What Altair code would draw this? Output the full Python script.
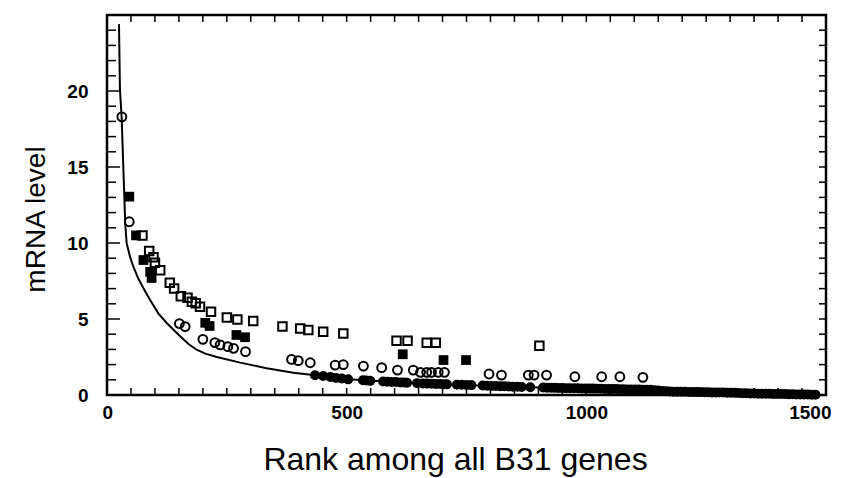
import altair as alt
import pandas as pd

# ---------------- data ----------------
line_rank = [25, 27, 30.5, 35, 38, 41, 48, 55, 65, 76, 90, 107, 125, 152, 170, 187, 205, 229, 278, 333,
             389, 430, 503, 600, 700, 800, 900, 1000, 1100, 1140, 1160, 1200, 1300, 1340, 1400, 1480]
line_level = [24.4, 20.1, 18.3, 14.1, 11.3, 9.98, 9.1, 8.44, 7.68, 7.02, 6.25, 5.37, 4.72, 3.88, 3.35,
              2.98, 2.72, 2.5, 2.13, 1.76, 1.47, 1.32, 1.03, 0.85, 0.71, 0.6, 0.5, 0.43, 0.36, 0.33,
              0.25, 0.21, 0.15, 0.1, 0.07, 0.02]

open_sq_rank = [74, 88, 97, 100, 111, 131, 140, 154, 168, 177, 185, 194, 217, 250, 272, 305, 366,
                403, 420, 451, 493, 604, 627, 667, 686, 902]
open_sq_level = [10.5, 9.47, 9.06, 8.7, 8.2, 7.39, 7.0, 6.5, 6.4, 6.14, 6.03, 5.8, 5.48, 5.1, 4.97,
                 4.87, 4.5, 4.38, 4.27, 4.16, 4.05, 3.57, 3.57, 3.44, 3.44, 3.24]

filled_sq_rank = [46.5, 60.5, 76, 90, 93, 205, 214, 270, 288, 617, 702, 749]
filled_sq_level = [13.05, 10.5, 8.88, 8.1, 7.7, 4.75, 4.54, 3.95, 3.8, 2.68, 2.3, 2.3]

open_ci_rank = [31, 46.5, 151, 163, 200, 225, 236, 252, 264, 289, 385, 399, 424, 476, 493, 535, 573,
                606, 639, 654, 667, 677, 691, 704, 797, 823, 879, 891, 917, 976, 1032, 1070, 1118]
open_ci_level = [18.3, 11.4, 4.7, 4.5, 3.66, 3.45, 3.3, 3.18, 3.07, 2.85, 2.34, 2.26, 2.12, 1.97, 2.0,
                 1.9, 1.8, 1.64, 1.64, 1.49, 1.49, 1.49, 1.49, 1.49, 1.38, 1.31, 1.31, 1.31, 1.31,
                 1.2, 1.2, 1.2, 1.16]

filled_ci_rank = [434, 451, 466, 478, 490, 503, 534, 541, 549, 576, 585, 594, 603, 612, 620, 626, 647,
                  659, 668, 677, 686, 695, 703, 709, 730, 740, 750, 760, 784, 793, 802, 811, 820, 829,
                  838, 847, 856, 865, 883,
                  910, 918, 926, 934, 942, 950, 958, 966, 974, 982, 990, 998, 1006, 1014, 1022, 1030,
                  1038, 1046, 1054, 1062, 1070, 1078, 1086, 1094, 1102, 1110, 1118, 1126, 1134, 1142,
                  1150, 1158, 1166, 1174, 1182, 1190, 1198, 1206, 1214, 1222, 1230, 1238, 1246, 1254,
                  1262, 1270, 1278, 1286, 1294, 1302, 1310, 1318, 1326, 1334, 1342, 1350, 1358, 1366,
                  1374, 1382, 1390, 1398, 1406, 1414, 1422, 1430, 1438, 1446, 1454, 1462, 1470, 1478]
filled_ci_level = [1.30, 1.25, 1.18, 1.12, 1.08, 1.03, 0.97, 0.95, 0.93, 0.89, 0.87, 0.86, 0.85, 0.83,
                   0.82, 0.81, 0.78, 0.76, 0.75, 0.74, 0.73, 0.72, 0.71, 0.70, 0.68, 0.67, 0.66, 0.65,
                   0.62, 0.61, 0.60, 0.59, 0.58, 0.57, 0.56, 0.55, 0.54, 0.53, 0.51,
                   0.49, 0.48, 0.48, 0.47, 0.46, 0.46, 0.45, 0.45, 0.44, 0.44, 0.43, 0.43, 0.42, 0.42,
                   0.41, 0.41, 0.40, 0.40, 0.39, 0.39, 0.38, 0.38, 0.37, 0.37, 0.36, 0.36, 0.35, 0.35,
                   0.34, 0.32, 0.29, 0.26, 0.24, 0.23, 0.22, 0.22, 0.21, 0.21, 0.20, 0.20, 0.19, 0.19,
                   0.18, 0.18, 0.17, 0.17, 0.16, 0.16, 0.15, 0.15, 0.14, 0.13, 0.12, 0.11, 0.10, 0.10,
                   0.09, 0.09, 0.08, 0.08, 0.07, 0.07, 0.06, 0.06, 0.05, 0.05, 0.04, 0.04, 0.03, 0.03,
                   0.02, 0.02]

x_label_values = [0, 500, 1000, 1500]
y_label_values = [0, 5, 10, 15, 20]
x_tick_values = list(range(0, 1501, 50))
y_minor_ticks = [v for v in range(1, 25) if v % 5 != 0]
y_major_ticks = [5, 10, 15, 20]
y_all_ticks = list(range(1, 25))

# ---------------- chart ----------------
W, H = 719, 380
FONT = "Liberation Sans"
xs = alt.Scale(domain=[0, 1500], nice=False, zero=False)
ys = alt.Scale(domain=[0, 25], nice=False, zero=False)

x_axis = alt.Axis(values=x_label_values, format="d", ticks=False, domain=False, grid=False,
                  labelFont=FONT, labelFontWeight="bold", labelFontSize=19, labelColor="black",
                  labelPadding=8, labelFlush=True, labelFlushOffset=5,
                  title="Rank among all B31 genes", titleFont=FONT, titleFontSize=32,
                  titleFontWeight="normal", titleColor="black", titleX=348, titleY=74,
                  titleBaseline="alphabetic", titleAlign="center", titleAnchor="middle")
y_axis = alt.Axis(values=y_label_values, format="d", ticks=False, domain=False, grid=False,
                  labelFont=FONT, labelFontWeight="bold", labelFontSize=19, labelColor="black",
                  labelPadding=19, labelFlush=False,
                  title="mRNA level", titleFont=FONT, titleFontSize=28, titleFontWeight="normal",
                  titleColor="black", titleX=-63, titleY=204, titleBaseline="alphabetic",
                  titleAlign="center", titleAngle=270)

line_df = pd.DataFrame({"rank": line_rank, "level": line_level})
osq_df = pd.DataFrame({"rank": open_sq_rank, "level": open_sq_level})
fsq_df = pd.DataFrame({"rank": filled_sq_rank, "level": filled_sq_level})
oci_df = pd.DataFrame({"rank": open_ci_rank, "level": open_ci_level})
fci_df = pd.DataFrame({"rank": filled_ci_rank, "level": filled_ci_level})

XE = alt.X("rank:Q", scale=xs, axis=x_axis)
YE = alt.Y("level:Q", scale=ys, axis=y_axis)

line = alt.Chart(line_df).mark_line(color="black", strokeWidth=2).encode(x=XE, y=YE)

def pts(df, shape, filled, size):
    if filled:
        m = alt.Chart(df).mark_point(shape=shape, filled=True, color="black", opacity=1, size=size)
    else:
        m = alt.Chart(df).mark_point(shape=shape, filled=False, color="black", opacity=1,
                                     strokeWidth=2, size=size)
    return m.encode(x=XE, y=YE)

fci = pts(fci_df, "circle", True, 100)
oci = pts(oci_df, "circle", False, 78)
osq = pts(osq_df, "square", False, 72)
fsq = pts(fsq_df, "square", True, 95)

xt_df = pd.DataFrame({"rank": x_tick_values})
ymin_df = pd.DataFrame({"level": y_minor_ticks})
ymaj_df = pd.DataFrame({"level": y_major_ticks})
yall_df = pd.DataFrame({"level": y_all_ticks})

def xticks(y0, y1):
    return alt.Chart(xt_df).mark_rule(color="black", strokeWidth=1.5).encode(
        x=XE, y=alt.value(y0), y2=alt.value(y1))

def yticks(df, x0, x1):
    return alt.Chart(df).mark_rule(color="black", strokeWidth=1.5).encode(
        y=YE, x=alt.value(x0), x2=alt.value(x1))

ticks = [xticks(H, H - 7), xticks(0, 7),
         yticks(ymin_df, 0, 9), yticks(ymaj_df, 0, 13), yticks(yall_df, W, W - 7)]

chart = alt.layer(line, *ticks, fci, oci, osq, fsq).properties(
    width=W, height=H,
    autosize=alt.AutoSizeParams(type="none"),
    padding={"left": 99, "top": 7, "right": 12, "bottom": 82},
    background="white",
).configure_view(stroke="black", strokeWidth=2.5)

chart.save("out.html", embed_options={"renderer": "svg", "actions": False})
